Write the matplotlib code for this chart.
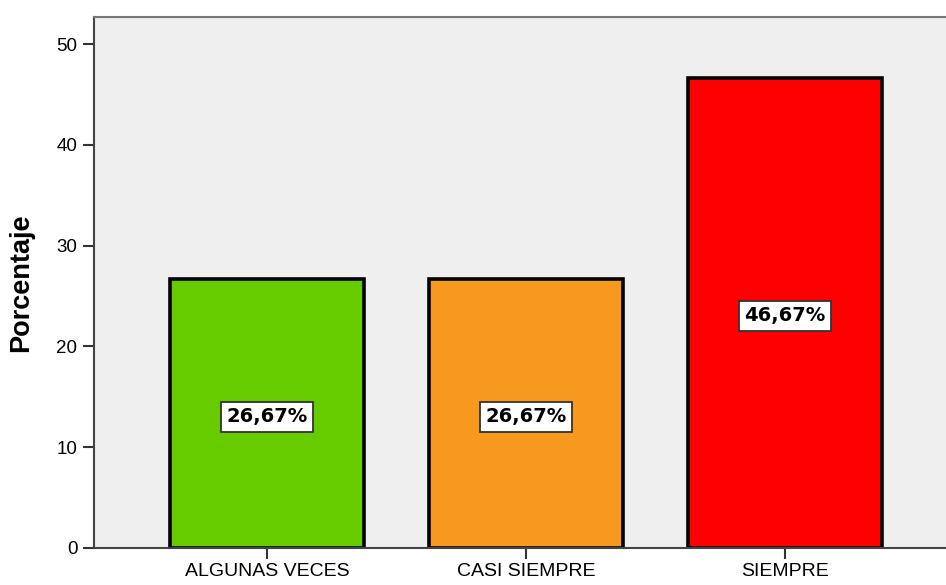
import matplotlib
matplotlib.use("Agg")
import matplotlib.pyplot as plt

plt.rcParams["font.family"] = ["Liberation Sans", "DejaVu Sans"]

categories = ["ALGUNAS VECES", "CASI SIEMPRE", "SIEMPRE"]
percentages = [26.67, 26.67, 46.67]
bar_colors = ["#66cc00", "#f7991e", "#ff0000"]
yticks = [0, 10, 20, 30, 40, 50]

fig = plt.figure(figsize=(9.46, 5.85), dpi=100)
ax = fig.add_axes([94 / 946, 1 - 548 / 585, 864 / 946, 531 / 585])
ax.set_facecolor("#efefef")

x = range(len(categories))
ax.bar(x, percentages, width=0.75, color=bar_colors, edgecolor="black", linewidth=2.6, zorder=2)

# value labels in white boxes
for i, v in enumerate(percentages):
    label = f"{v:.2f}".replace(".", ",") + "%"
    ax.text(i, v / 2 - 0.3, label, ha="center", va="center", fontsize=14, fontweight="bold",
            family="DejaVu Sans",
            bbox=dict(boxstyle="square,pad=0.28", facecolor="white", edgecolor="#333333", linewidth=1.3),
            zorder=3)

ax.set_xlim(-0.668, 2.668)
ax.set_ylim(0, 52.68)
ax.set_xticks(list(x))
ax.set_xticklabels(categories, fontsize=14)
ax.set_yticks(yticks)
ax.tick_params(axis="y", direction="out", length=8, width=1.5, labelsize=13.5, colors="#333333",
               labelcolor="black", pad=4)
ax.tick_params(axis="x", direction="out", length=8, width=1.5, colors="#333333", labelcolor="black", pad=3)
ax.set_ylabel("Porcentaje", fontsize=19.5, fontweight="bold")
ax.yaxis.set_label_coords(-0.0694, 0.5)

ax.spines["right"].set_visible(False)
ax.spines["left"].set_color("#444444")
ax.spines["left"].set_linewidth(1.5)
ax.spines["bottom"].set_color("#444444")
ax.spines["bottom"].set_linewidth(1.5)
ax.spines["top"].set_color("#777777")
ax.spines["top"].set_linewidth(1.5)

fig.savefig("out.png", dpi=100)
